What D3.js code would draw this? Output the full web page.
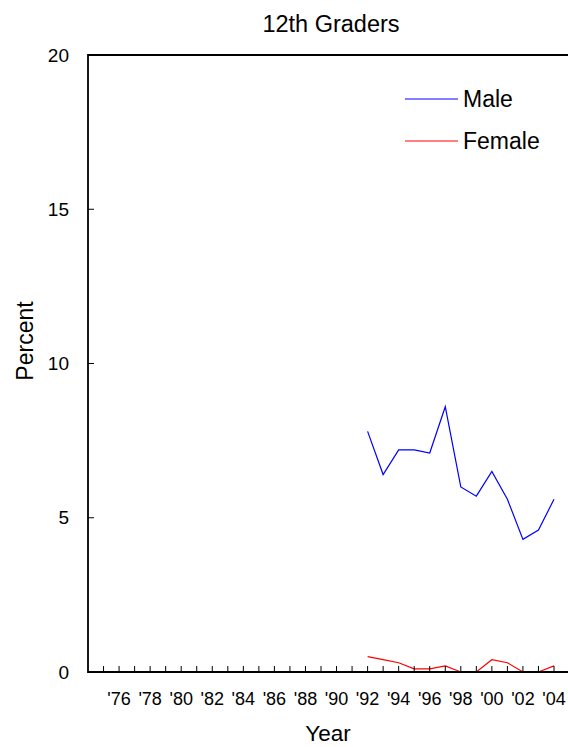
<!DOCTYPE html>
<html>
<head>
<meta charset="utf-8">
<script src="https://cdn.jsdelivr.net/npm/d3@7"></script>
<style>
  html, body { margin: 0; padding: 0; background: #fff; }
  svg { display: block; font-family: Arial, "Liberation Sans", sans-serif; }
</style>
</head>
<body>
<svg id="chart" width="568" height="747"></svg>
<script>
// Annual percentages for 12th graders, by sex
const years = [1992, 1993, 1994, 1995, 1996, 1997, 1998, 1999, 2000, 2001, 2002, 2003, 2004];
const male = [7.8, 6.4, 7.2, 7.2, 7.1, 8.6, 6.0, 5.7, 6.5, 5.6, 4.3, 4.6, 5.6];
const female = [0.5, 0.4, 0.3, 0.1, 0.1, 0.2, 0.0, 0.0, 0.4, 0.3, 0.0, 0.0, 0.2];
const tickYears = d3.range(1975, 2005);
const labelYears = d3.range(1976, 2005, 2);
const yTicks = [0, 5, 10, 15, 20];
const seriesNames = ["Male", "Female"];
const seriesColors = ["#0000ff", "#ff0000"];

const svg = d3.select("#chart");
const W = 568;
const plotLeft = 88, plotTop = 55, plotBottom = 672;

const x = d3.scaleLinear().domain([1974, 2004]).range([plotLeft, 554]);
const y = d3.scaleLinear().domain([0, 20]).range([plotBottom, plotTop]);

// Series lines (drawn first so the frame sits on top of them)
const line = d3.line()
  .x((d, i) => x(years[i]))
  .y(d => y(d));
[male, female].forEach((vals, k) => {
  svg.append("path")
    .datum(vals)
    .attr("d", line)
    .attr("fill", "none")
    .attr("stroke", seriesColors[k])
    .attr("stroke-width", 1.2);
});

// Frame: left, top and bottom edges running off the right side
svg.append("path")
  .attr("d", `M${W},${plotTop}H${plotLeft}V${plotBottom}H${W}`)
  .attr("fill", "none")
  .attr("stroke", "#000")
  .attr("stroke-width", 1.8);

// Y ticks point inward
const yAxis = svg.append("g");
yAxis.selectAll("line").data(yTicks).join("line")
  .attr("x1", plotLeft).attr("x2", plotLeft + 6)
  .attr("y1", d => y(d)).attr("y2", d => y(d))
  .attr("stroke", "#000").attr("stroke-width", 1);
yAxis.selectAll("text").data(yTicks).join("text")
  .attr("x", 69).attr("y", d => y(d))
  .attr("text-anchor", "end")
  .attr("dominant-baseline", "central")
  .attr("font-size", 19)
  .text(d => d);

// X ticks: every year, labelled every other year
const xAxis = svg.append("g");
xAxis.selectAll("line").data(tickYears).join("line")
  .attr("x1", d => x(d)).attr("x2", d => x(d))
  .attr("y1", plotBottom).attr("y2", plotBottom - 6)
  .attr("stroke", "#000").attr("stroke-width", 1);
xAxis.selectAll("text").data(labelYears).join("text")
  .attr("x", d => x(d)).attr("y", 705)
  .attr("text-anchor", "middle")
  .attr("font-size", 18)
  .text(d => "'" + String(d).slice(2));

// Legend
const legend = svg.append("g");
seriesNames.forEach((name, k) => {
  const ly = 99 + k * 42;
  legend.append("line")
    .attr("x1", 405).attr("x2", 458)
    .attr("y1", ly).attr("y2", ly)
    .attr("stroke", seriesColors[k]).attr("stroke-width", 1);
  legend.append("text")
    .attr("x", 463).attr("y", ly + 7.5)
    .attr("font-size", 23)
    .text(name);
});

// Titles
svg.append("text")
  .attr("x", 331).attr("y", 31.5)
  .attr("text-anchor", "middle")
  .attr("font-size", 23.5)
  .text("12th Graders");
svg.append("text")
  .attr("x", 328).attr("y", 741)
  .attr("text-anchor", "middle")
  .attr("font-size", 22.5)
  .text("Year");
svg.append("text")
  .attr("transform", "translate(32.5,341) rotate(-90)")
  .attr("text-anchor", "middle")
  .attr("font-size", 23)
  .text("Percent");
</script>
</body>
</html>
